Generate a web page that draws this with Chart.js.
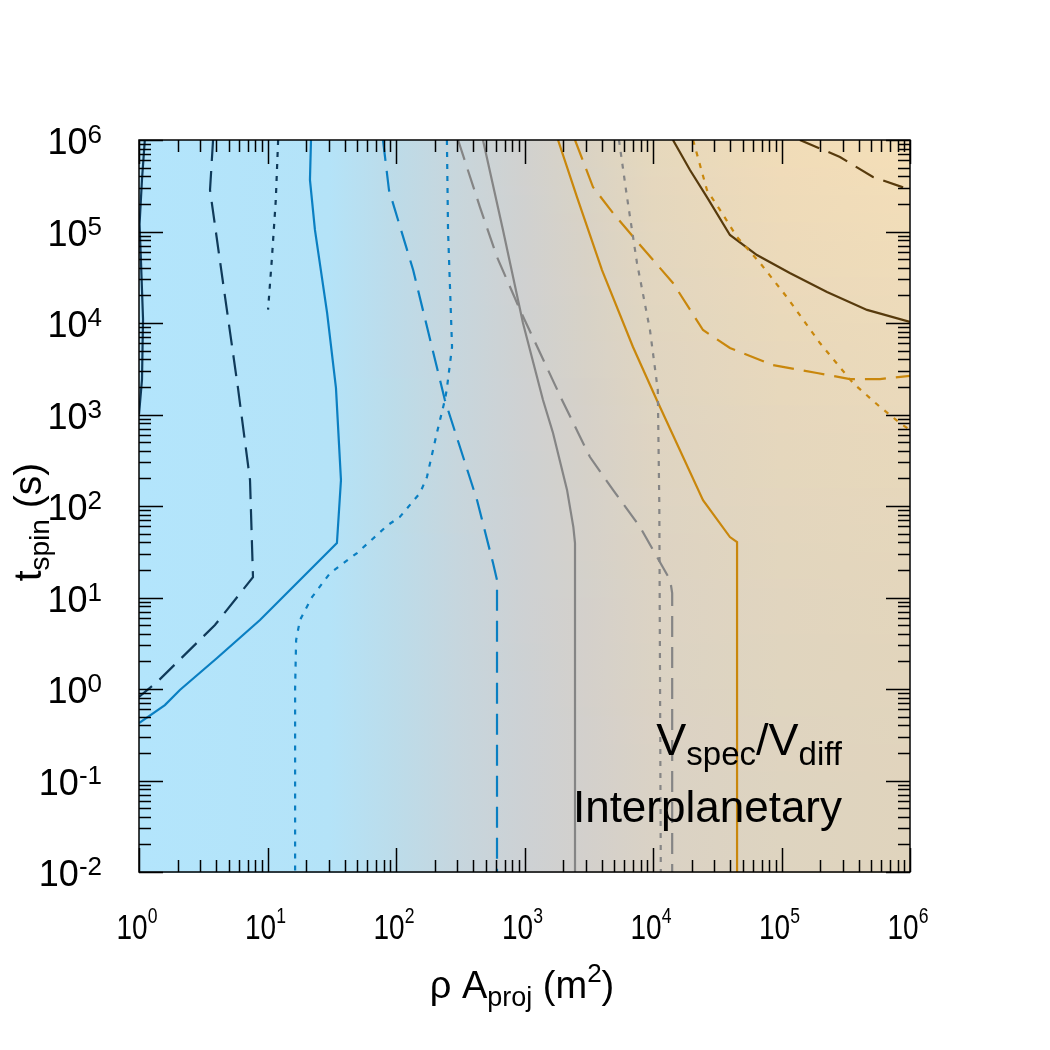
<!DOCTYPE html>
<html>
<head>
<meta charset="utf-8">
<script src="https://cdn.jsdelivr.net/npm/chart.js@4.4.1/dist/chart.umd.min.js"></script>
<style>
html, body { margin: 0; padding: 0; background: #fff; }
</style>
</head>
<body>
<canvas id="grafico" width="1050" height="1050"></canvas>
<script>
// curvas (x = rho*Aproj em m2, y = tspin em s)
const navySolidX = [1.11, 1.055, 1.01, 1.035, 1.075, 1.055, 1.0];
const navySolidY = [1e6, 3.7e5, 1.2e5, 4.9e4, 1.1e4, 2.4e3, 1.0e3];
const navyDashX = [3.77, 3.57, 4.59, 5.89, 7.31, 7.71, 3.9, 1.38, 1.0];
const navyDashY = [1e6, 2.84e5, 2.3e4, 1.95e3, 192, 16.7, 5.0, 1.19, 0.82];
const navyDotX = [12.1, 11.6, 10.8, 10.1];
const navyDotY = [1e6, 2.2e5, 4.9e4, 1.4e4];

const blueSolidX = [21.8, 21.4, 23.4, 29.1, 34.1, 37.3, 34.7, 8.74, 4.05, 2.08, 1.59, 1.0];
const blueSolidY = [1e6, 3.66e5, 1.04e5, 1.29e4, 1.95e3, 192, 39.4, 5.68, 2.18, 0.975, 0.668, 0.425];
const blueDashX = [79.2, 88.2, 136, 240, 427, 569, 611, 611];
const blueDashY = [1e6, 2.84e5, 3.79e4, 1.44e3, 116, 23.8, 15.5, 0.01];
const blueDotX = [249, 254, 273, 248, 240, 208, 174, 154, 107, 86.6, 49.7, 30.7, 22.2, 17.9, 16.7, 16.4, 16.4];
const blueDotY = [1e6, 1.04e5, 5.47e3, 1.85e3, 1.44e3, 628, 207, 139, 75.8, 62.0, 30.6, 18.5, 10.1, 5.68, 3.43, 1.0, 0.01];

const grayX = [475, 680, 973, 1393, 1667, 2143, 2400, 2472, 2472];
const grayY = [1e6, 1.04e5, 1.0e4, 1.44e3, 628, 150, 58.9, 39.4, 0.01];
const grayDashX = [304, 450, 611, 923, 1959, 3233, 4884, 7925, 1.36e4, 1.41e4, 1.41e4];
const grayDashY = [1e6, 1.85e5, 5.26e4, 1.39e4, 1.44e3, 343, 150, 58.9, 15.5, 11.2, 0.01];
const grayDotX = [5436, 6276, 7506, 9471, 1.09e4, 1.12e4, 1.15e4];
const grayDotY = [1e6, 2.38e5, 4.53e4, 8.38e3, 1.85e3, 100, 0.01];

const orangeX = [1823, 2562, 4010, 6988, 1.07e4, 2.45e4, 3.97e4, 4.51e4, 4.51e4];
const orangeY = [1e6, 2.38e5, 3.79e4, 5.47e3, 1.44e3, 116, 45.8, 40.4, 0.01];
const orangeDashX = [2472, 3412, 4884, 7925, 1.43e4, 2.45e4, 3.97e4, 8.59e4, 1.89e5, 3.41e5, 5.84e5, 1e6];
const orangeDashY = [1e6, 3.06e5, 1.59e5, 7.12e4, 2.74e4, 8.38e3, 5.33e3, 3.47e3, 2.84e3, 2.44e3, 2.44e3, 2.64e3];
const orangeDotX = [2.05e4, 2.63e4, 3.32e4, 4.51e4, 6.81e4, 1.10e5, 1.99e5, 3.60e5, 5.84e5, 8.36e5, 1e6];
const orangeDotY = [1e6, 2.84e5, 1.72e5, 8.71e4, 4.53e4, 1.92e4, 6.04e3, 2.21e3, 1.21e3, 807, 677];

const brownX = [1.43e4, 1.94e4, 2.63e4, 3.97e4, 6.44e4, 1.16e5, 2.26e5, 4.63e5, 1e6];
const brownY = [1e6, 4.70e5, 2.38e5, 9.16e4, 5.53e4, 3.52e4, 2.18e4, 1.39e4, 1.03e4];
const brownDashX = [1.39e5, 2.85e5, 5.15e5, 9.14e5];
const brownDashY = [1e6, 6.52e5, 3.94e5, 2.99e5];

// eixos
const xExpoentes = [0, 1, 2, 3, 4, 5, 6];
const yExpoentes = [-2, -1, 0, 1, 2, 3, 4, 5, 6];

// fundo (mapa de cor), colunas em x
const fundoX = [1, 30, 100, 300, 1000, 3000, 1e4, 1e5, 1e6];
const fundoBaixo = ['#b3e5fc', '#b4e3f8', '#bcdcea', '#c6d6de', '#cdd1d4', '#d3d0cc', '#dad2c5', '#ded4c0', '#e0d4bd'];
const fundoTopo = ['#b3e5fc', '#b4e3f8', '#bddbe8', '#c8d6dc', '#d1d1cf', '#dad3c4', '#e6d8bd', '#f1dcb8', '#f5dfb8'];

const NAVY = '#0f3a5a', AZUL = '#0a7fc2', CINZA = '#858585', LARANJA = '#c9870c', MARROM = '#573a0c';
const tracejado = [21, 10];
const pontilhado = [5, 7];
const FONTE = '"Liberation Sans", Arial, Helvetica, sans-serif';

function linha(xs, ys, cor, dash) {
    return {
        data: xs.map((x, i) => ({ x: x, y: ys[i] })),
        borderColor: cor,
        borderWidth: 2.2,
        borderDash: dash || [],
        pointRadius: 0,
        showLine: true,
        fill: false,
        tension: 0
    };
}

function hexRgb(h) {
    return [parseInt(h.slice(1, 3), 16), parseInt(h.slice(3, 5), 16), parseInt(h.slice(5, 7), 16)];
}

function misturar(a, b, t) {
    let ca = hexRgb(a), cb = hexRgb(b);
    let c = ca.map((v, i) => Math.round(v + (cb[i] - v) * t));
    return 'rgb(' + c.join(',') + ')';
}

function rico(ctx, partes, x, y, align, sx) {
    let w = 0;
    partes.forEach(p => {
        ctx.font = p.size + 'px ' + FONTE;
        p.w = ctx.measureText(p.t).width;
        w += p.w;
    });
    ctx.save();
    ctx.translate(x, y);
    ctx.scale(sx || 1, 1);
    let cx = align === 'center' ? -w / 2 : (align === 'right' ? -w : 0);
    ctx.textAlign = 'left';
    ctx.textBaseline = 'alphabetic';
    ctx.fillStyle = '#000';
    partes.forEach(p => {
        ctx.font = p.size + 'px ' + FONTE;
        ctx.fillText(p.t, cx, p.dy || 0);
        cx += p.w;
    });
    ctx.restore();
}

const moldura = {
    id: 'moldura',
    beforeDatasetsDraw(chart) {
        const { ctx, chartArea: a, scales } = chart;
        const n = 80;
        ctx.save();
        for (let i = 0; i < n; i++) {
            let y0 = a.top + (a.bottom - a.top) * i / n;
            let y1 = a.top + (a.bottom - a.top) * (i + 1) / n;
            let t = Math.pow(1 - (i + 0.5) / n, 1.8);
            let g = ctx.createLinearGradient(a.left, 0, a.right, 0);
            fundoX.forEach((v, k) => {
                let p = (scales.x.getPixelForValue(v) - a.left) / (a.right - a.left);
                g.addColorStop(Math.min(1, Math.max(0, p)), misturar(fundoBaixo[k], fundoTopo[k], t));
            });
            ctx.fillStyle = g;
            ctx.fillRect(a.left, y0, a.right - a.left, y1 - y0 + 1);
        }
        ctx.restore();
    },
    afterDatasetsDraw(chart) {
        const { ctx, chartArea: a, scales } = chart;
        const sx = scales.x, sy = scales.y;
        ctx.save();
        ctx.strokeStyle = '#000';
        ctx.lineWidth = 1.5;
        ctx.setLineDash([]);
        ctx.strokeRect(a.left, a.top, a.right - a.left, a.bottom - a.top);

        // ticks para dentro nos 4 lados
        ctx.beginPath();
        xExpoentes.forEach(e => {
            for (let m = 1; m <= 9; m++) {
                let v = m * Math.pow(10, e);
                if (v > 1e6 * 1.0001) break;
                let px = Math.round(sx.getPixelForValue(v)) + 0.5;
                let len = m === 1 ? 24 : 12;
                ctx.moveTo(px, a.bottom); ctx.lineTo(px, a.bottom - len);
                ctx.moveTo(px, a.top); ctx.lineTo(px, a.top + len);
            }
        });
        yExpoentes.forEach(e => {
            for (let m = 1; m <= 9; m++) {
                let v = m * Math.pow(10, e);
                if (v > 1e6 * 1.0001) break;
                let py = Math.round(sy.getPixelForValue(v)) + 0.5;
                let len = m === 1 ? 24 : 12;
                ctx.moveTo(a.left, py); ctx.lineTo(a.left + len, py);
                ctx.moveTo(a.right, py); ctx.lineTo(a.right - len, py);
            }
        });
        ctx.stroke();

        // rotulos dos ticks
        xExpoentes.forEach(e => {
            let px = sx.getPixelForValue(Math.pow(10, e));
            rico(ctx, [{ t: '10', size: 35 }, { t: String(e), size: 22, dy: -16 }], px - 2, 939, 'center', 0.8);
        });
        yExpoentes.forEach(e => {
            let py = sy.getPixelForValue(Math.pow(10, e));
            rico(ctx, [{ t: '10', size: 36 }, { t: String(e), size: 26, dy: -11 }], 102, py + 14, 'right', 1);
        });

        // titulos
        rico(ctx, [
            { t: 'ρ A', size: 38 },
            { t: 'proj', size: 27, dy: 8 },
            { t: ' (m', size: 38 },
            { t: '2', size: 26, dy: -16 },
            { t: ')', size: 38 }
        ], 522, 998, 'center', 1);

        ctx.save();
        ctx.translate(41, 522);
        ctx.rotate(-Math.PI / 2);
        rico(ctx, [
            { t: 't', size: 39 },
            { t: 'spin', size: 28, dy: 8 },
            { t: ' (s)', size: 39 }
        ], 0, 0, 'center', 1);
        ctx.restore();

        // anotacao
        rico(ctx, [
            { t: 'V', size: 45 },
            { t: 'spec', size: 33, dy: 10 },
            { t: '/V', size: 45 },
            { t: 'diff', size: 33, dy: 10 }
        ], 842, 755, 'right', 1);
        rico(ctx, [{ t: 'Interplanetary', size: 44 }], 842, 822, 'right', 1);
        ctx.restore();
    }
};

const ctx = document.getElementById('grafico').getContext('2d');

const grafico = new Chart(ctx, {
    type: 'scatter',
    data: {
        datasets: [
            linha(navySolidX, navySolidY, NAVY),
            linha(navyDashX, navyDashY, NAVY, tracejado),
            linha(navyDotX, navyDotY, NAVY, pontilhado),
            linha(blueSolidX, blueSolidY, AZUL),
            linha(blueDashX, blueDashY, AZUL, tracejado),
            linha(blueDotX, blueDotY, AZUL, pontilhado),
            linha(grayX, grayY, CINZA),
            linha(grayDashX, grayDashY, CINZA, tracejado),
            linha(grayDotX, grayDotY, CINZA, pontilhado),
            linha(orangeX, orangeY, LARANJA),
            linha(orangeDashX, orangeDashY, LARANJA, tracejado),
            linha(orangeDotX, orangeDotY, LARANJA, pontilhado),
            linha(brownX, brownY, MARROM),
            linha(brownDashX, brownDashY, MARROM, tracejado)
        ]
    },
    options: {
        responsive: false,
        animation: false,
        layout: {
            padding: { left: 139, top: 140, right: 140, bottom: 178 }
        },
        scales: {
            x: { type: 'logarithmic', min: 1, max: 1e6, display: false },
            y: { type: 'logarithmic', min: 0.01, max: 1e6, display: false }
        },
        plugins: {
            legend: { display: false },
            tooltip: { enabled: false }
        }
    },
    plugins: [moldura]
});
</script>
</body>
</html>
